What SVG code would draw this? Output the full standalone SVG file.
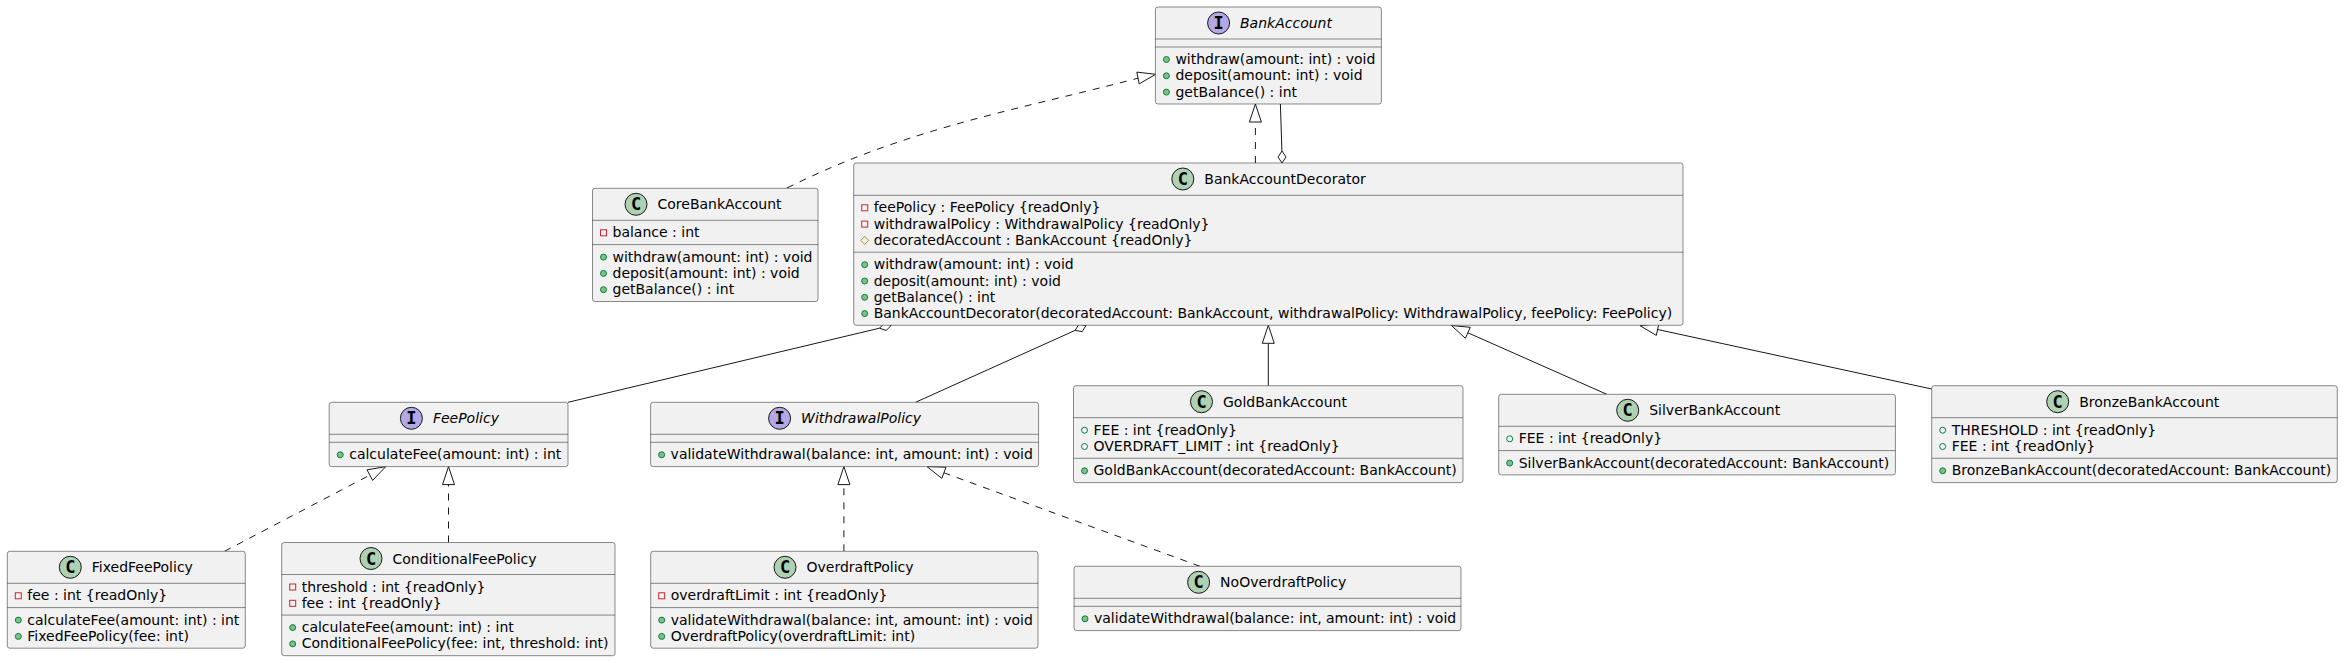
<svg xmlns="http://www.w3.org/2000/svg" width="2343" height="662" viewBox="0 0 2343 662">
<style>
.box{fill:#F1F1F1;stroke:#181818;stroke-width:0.5}
.sep{stroke:#181818;stroke-width:0.5}
.t{font-family:"DejaVu Sans",sans-serif;font-size:14px;fill:#000000}
.it{font-style:italic}
.cc{fill:#ADD1B2;stroke:#181818;stroke-width:1}
.ci{fill:#B4A7E5;stroke:#181818;stroke-width:1}
.lt{font-family:"DejaVu Sans Mono",monospace;font-weight:bold;font-size:17px;text-anchor:middle;fill:#000000}
.pm{fill:#84BE84;stroke:#038048;stroke-width:1}
.pf{fill:none;stroke:#038048;stroke-width:1}
.pr{fill:none;stroke:#C82930;stroke-width:1}
.pt{fill:none;stroke:#B38D22;stroke-width:1}
.e{stroke:#181818;stroke-width:1;fill:none}
.d{stroke-dasharray:7,7}
.ah{fill:#FFFFFF;stroke:#181818;stroke-width:1}
</style>
<rect width="2343" height="662" fill="#FFFFFF"/>

<g id="connectors">
  <!-- CoreBankAccount realizes BankAccount -->
  <path class="e d" d="M787,188 C907,128 1017,110 1138,78.2"/>
  <polygon class="ah" points="1155.7,74.3 1139.2,83.9 1136.8,72.1"/>
  <!-- BankAccountDecorator realizes BankAccount -->
  <line class="e d" x1="1255.4" y1="163" x2="1255.4" y2="122"/>
  <polygon class="ah" points="1255.4,104 1249.4,122 1261.4,122"/>
  <!-- BankAccountDecorator aggregates BankAccount -->
  <line class="e" x1="1280.4" y1="104" x2="1281.9" y2="151"/>
  <polygon class="ah" points="1282,163 1286,157 1282,151 1278,157"/>
  <!-- Decorator aggregates FeePolicy -->
  <line class="e" x1="879.5" y1="328.2" x2="568" y2="402.3"/>
  <polygon class="ah" points="891.2,325.4 886.2,330.5 879.5,328.2 884.4,323.2"/>
  <!-- Decorator aggregates WithdrawalPolicy -->
  <line class="e" x1="1075.1" y1="330.4" x2="915.5" y2="402.3"/>
  <polygon class="ah" points="1086,325.5 1082.2,331.6 1075.1,330.4 1078.9,324.3"/>
  <!-- Gold extends Decorator -->
  <line class="e" x1="1268.3" y1="385.7" x2="1268.3" y2="343.3"/>
  <polygon class="ah" points="1268.3,325.3 1262.3,343.3 1274.3,343.3"/>
  <!-- Silver extends Decorator -->
  <line class="e" x1="1467.9" y1="332.8" x2="1606.8" y2="394.3"/>
  <polygon class="ah" points="1451.4,325.5 1465.4,338.3 1470.3,327.3"/>
  <!-- Bronze extends Decorator -->
  <line class="e" x1="1657.6" y1="329.5" x2="1931.7" y2="389"/>
  <polygon class="ah" points="1640,325.7 1656.3,335.4 1658.9,323.6"/>
  <!-- FixedFeePolicy realizes FeePolicy -->
  <line class="e d" x1="224.5" y1="551.3" x2="369.8" y2="475.1"/>
  <polygon class="ah" points="385.7,466.7 372.6,480.4 367,469.8"/>
  <!-- ConditionalFeePolicy realizes FeePolicy -->
  <line class="e d" x1="448.5" y1="542.5" x2="448.5" y2="484.6"/>
  <polygon class="ah" points="448.5,466.6 442.5,484.6 454.5,484.6"/>
  <!-- OverdraftPolicy realizes WithdrawalPolicy -->
  <line class="e d" x1="843.9" y1="551.3" x2="843.9" y2="484.6"/>
  <polygon class="ah" points="843.9,466.6 837.9,484.6 849.9,484.6"/>
  <!-- NoOverdraftPolicy realizes WithdrawalPolicy -->
  <line class="e d" x1="1200" y1="566.3" x2="943.9" y2="472.8"/>
  <polygon class="ah" points="927,466.6 941.8,478.4 946,467.2"/>
</g>

<g id="BankAccount">
  <rect class="box" x="1155.4" y="7" width="226" height="97" rx="2.5"/>
  <line class="sep" x1="1155.4" y1="39" x2="1381.4" y2="39"/>
  <line class="sep" x1="1155.4" y1="47" x2="1381.4" y2="47"/>
  <circle class="ci" cx="1218.6" cy="23" r="11"/>
  <text class="lt" x="1218.6" y="29">I</text>
  <text class="t it" x="1240" y="28">BankAccount</text>
  <circle class="pm" cx="1166.4" cy="59.5" r="3"/>
  <text class="t" x="1175.4" y="64">withdraw(amount: int) : void</text>
  <circle class="pm" cx="1166.4" cy="75.8" r="3"/>
  <text class="t" x="1175.4" y="80.3">deposit(amount: int) : void</text>
  <circle class="pm" cx="1166.4" cy="92.1" r="3"/>
  <text class="t" x="1175.4" y="96.6">getBalance() : int</text>
</g>

<g id="CoreBankAccount">
  <rect class="box" x="592.5" y="188.3" width="225.5" height="113.2" rx="2.5"/>
  <line class="sep" x1="592.5" y1="220.3" x2="818" y2="220.3"/>
  <line class="sep" x1="592.5" y1="244.6" x2="818" y2="244.6"/>
  <circle class="cc" cx="636" cy="204.3" r="11"/>
  <text class="lt" x="636" y="210.3">C</text>
  <text class="t" x="657.5" y="209.3">CoreBankAccount</text>
  <rect class="pr" x="600.5" y="229.8" width="6" height="6"/>
  <text class="t" x="612.5" y="237.3">balance : int</text>
  <circle class="pm" cx="603.5" cy="257.1" r="3"/>
  <text class="t" x="612.5" y="261.6">withdraw(amount: int) : void</text>
  <circle class="pm" cx="603.5" cy="273.4" r="3"/>
  <text class="t" x="612.5" y="277.9">deposit(amount: int) : void</text>
  <circle class="pm" cx="603.5" cy="289.7" r="3"/>
  <text class="t" x="612.5" y="294.2">getBalance() : int</text>
</g>

<g id="BankAccountDecorator">
  <rect class="box" x="853.7" y="163" width="829.3" height="162.3" rx="2.5"/>
  <line class="sep" x1="853.7" y1="195.3" x2="1683" y2="195.3"/>
  <line class="sep" x1="853.7" y1="252.2" x2="1683" y2="252.2"/>
  <circle class="cc" cx="1182.8" cy="179" r="11"/>
  <text class="lt" x="1182.8" y="185">C</text>
  <text class="t" x="1204.3" y="184">BankAccountDecorator</text>
  <rect class="pr" x="861.7" y="204.8" width="6" height="6"/>
  <text class="t" x="873.7" y="212.3">feePolicy : FeePolicy {readOnly}</text>
  <rect class="pr" x="861.7" y="221.1" width="6" height="6"/>
  <text class="t" x="873.7" y="228.6">withdrawalPolicy : WithdrawalPolicy {readOnly}</text>
  <polygon class="pt" points="864.7,236.4 868.7,240.4 864.7,244.4 860.7,240.4"/>
  <text class="t" x="873.7" y="244.9">decoratedAccount : BankAccount {readOnly}</text>
  <circle class="pm" cx="864.7" cy="264.7" r="3"/>
  <text class="t" x="873.7" y="269.2">withdraw(amount: int) : void</text>
  <circle class="pm" cx="864.7" cy="281" r="3"/>
  <text class="t" x="873.7" y="285.5">deposit(amount: int) : void</text>
  <circle class="pm" cx="864.7" cy="297.3" r="3"/>
  <text class="t" x="873.7" y="301.8">getBalance() : int</text>
  <circle class="pm" cx="864.7" cy="313.6" r="3"/>
  <text class="t" x="873.7" y="318.1">BankAccountDecorator(decoratedAccount: BankAccount, withdrawalPolicy: WithdrawalPolicy, feePolicy: FeePolicy)</text>
</g>

<g id="FeePolicy">
  <rect class="box" x="329.2" y="402.3" width="238.8" height="64.3" rx="2.5"/>
  <line class="sep" x1="329.2" y1="434.3" x2="568" y2="434.3"/>
  <line class="sep" x1="329.2" y1="442.3" x2="568" y2="442.3"/>
  <circle class="ci" cx="411.4" cy="418.3" r="11"/>
  <text class="lt" x="411.4" y="424.3">I</text>
  <text class="t it" x="432.9" y="423.3">FeePolicy</text>
  <circle class="pm" cx="340.2" cy="454.8" r="3"/>
  <text class="t" x="349.2" y="459.3">calculateFee(amount: int) : int</text>
</g>

<g id="WithdrawalPolicy">
  <rect class="box" x="650.6" y="402.3" width="388" height="64.3" rx="2.5"/>
  <line class="sep" x1="650.6" y1="434.3" x2="1038.6" y2="434.3"/>
  <line class="sep" x1="650.6" y1="442.3" x2="1038.6" y2="442.3"/>
  <circle class="ci" cx="779.6" cy="418.3" r="11"/>
  <text class="lt" x="779.6" y="424.3">I</text>
  <text class="t it" x="801.1" y="423.3">WithdrawalPolicy</text>
  <circle class="pm" cx="661.6" cy="454.8" r="3"/>
  <text class="t" x="670.6" y="459.3">validateWithdrawal(balance: int, amount: int) : void</text>
</g>

<g id="GoldBankAccount">
  <rect class="box" x="1073.5" y="385.7" width="389.5" height="96.9" rx="2.5"/>
  <line class="sep" x1="1073.5" y1="417.7" x2="1463" y2="417.7"/>
  <line class="sep" x1="1073.5" y1="458.3" x2="1463" y2="458.3"/>
  <circle class="cc" cx="1201.5" cy="401.7" r="11"/>
  <text class="lt" x="1201.5" y="407.7">C</text>
  <text class="t" x="1223" y="406.7">GoldBankAccount</text>
  <circle class="pf" cx="1084.5" cy="430.2" r="3"/>
  <text class="t" x="1093.5" y="434.7">FEE : int {readOnly}</text>
  <circle class="pf" cx="1084.5" cy="446.5" r="3"/>
  <text class="t" x="1093.5" y="451">OVERDRAFT_LIMIT : int {readOnly}</text>
  <circle class="pm" cx="1084.5" cy="470.8" r="3"/>
  <text class="t" x="1093.5" y="475.3">GoldBankAccount(decoratedAccount: BankAccount)</text>
</g>

<g id="SilverBankAccount">
  <rect class="box" x="1498.7" y="394.3" width="396.7" height="80.6" rx="2.5"/>
  <line class="sep" x1="1498.7" y1="426.3" x2="1895.4" y2="426.3"/>
  <line class="sep" x1="1498.7" y1="450.6" x2="1895.4" y2="450.6"/>
  <circle class="cc" cx="1627.7" cy="410.3" r="11"/>
  <text class="lt" x="1627.7" y="416.3">C</text>
  <text class="t" x="1649.2" y="415.3">SilverBankAccount</text>
  <circle class="pf" cx="1509.7" cy="438.8" r="3"/>
  <text class="t" x="1518.7" y="443.3">FEE : int {readOnly}</text>
  <circle class="pm" cx="1509.7" cy="463.1" r="3"/>
  <text class="t" x="1518.7" y="467.6">SilverBankAccount(decoratedAccount: BankAccount)</text>
</g>

<g id="BronzeBankAccount">
  <rect class="box" x="1931.7" y="385.7" width="405.6" height="96.9" rx="2.5"/>
  <line class="sep" x1="1931.7" y1="417.7" x2="2337.3" y2="417.7"/>
  <line class="sep" x1="1931.7" y1="458.3" x2="2337.3" y2="458.3"/>
  <circle class="cc" cx="2057.7" cy="401.7" r="11"/>
  <text class="lt" x="2057.7" y="407.7">C</text>
  <text class="t" x="2079.2" y="406.7">BronzeBankAccount</text>
  <circle class="pf" cx="1942.7" cy="430.2" r="3"/>
  <text class="t" x="1951.7" y="434.7">THRESHOLD : int {readOnly}</text>
  <circle class="pf" cx="1942.7" cy="446.5" r="3"/>
  <text class="t" x="1951.7" y="451">FEE : int {readOnly}</text>
  <circle class="pm" cx="1942.7" cy="470.8" r="3"/>
  <text class="t" x="1951.7" y="475.3">BronzeBankAccount(decoratedAccount: BankAccount)</text>
</g>

<g id="FixedFeePolicy">
  <rect class="box" x="7.3" y="551.3" width="238" height="96.9" rx="2.5"/>
  <line class="sep" x1="7.3" y1="583.3" x2="245.3" y2="583.3"/>
  <line class="sep" x1="7.3" y1="607.6" x2="245.3" y2="607.6"/>
  <circle class="cc" cx="70.3" cy="567.3" r="11"/>
  <text class="lt" x="70.3" y="573.3">C</text>
  <text class="t" x="91.8" y="572.3">FixedFeePolicy</text>
  <rect class="pr" x="15.3" y="592.8" width="6" height="6"/>
  <text class="t" x="27.3" y="600.3">fee : int {readOnly}</text>
  <circle class="pm" cx="18.3" cy="620.1" r="3"/>
  <text class="t" x="27.3" y="624.6">calculateFee(amount: int) : int</text>
  <circle class="pm" cx="18.3" cy="636.4" r="3"/>
  <text class="t" x="27.3" y="640.9">FixedFeePolicy(fee: int)</text>
</g>

<g id="ConditionalFeePolicy">
  <rect class="box" x="281.7" y="542.5" width="333.3" height="113.2" rx="2.5"/>
  <line class="sep" x1="281.7" y1="574.5" x2="615" y2="574.5"/>
  <line class="sep" x1="281.7" y1="615.1" x2="615" y2="615.1"/>
  <circle class="cc" cx="371" cy="558.5" r="11"/>
  <text class="lt" x="371" y="564.5">C</text>
  <text class="t" x="392.5" y="563.5">ConditionalFeePolicy</text>
  <rect class="pr" x="289.7" y="584" width="6" height="6"/>
  <text class="t" x="301.7" y="591.5">threshold : int {readOnly}</text>
  <rect class="pr" x="289.7" y="600.3" width="6" height="6"/>
  <text class="t" x="301.7" y="607.8">fee : int {readOnly}</text>
  <circle class="pm" cx="292.7" cy="627.6" r="3"/>
  <text class="t" x="301.7" y="632.1">calculateFee(amount: int) : int</text>
  <circle class="pm" cx="292.7" cy="643.9" r="3"/>
  <text class="t" x="301.7" y="648.4">ConditionalFeePolicy(fee: int, threshold: int)</text>
</g>

<g id="OverdraftPolicy">
  <rect class="box" x="650.7" y="551.3" width="387.3" height="96.9" rx="2.5"/>
  <line class="sep" x1="650.7" y1="583.3" x2="1038" y2="583.3"/>
  <line class="sep" x1="650.7" y1="607.6" x2="1038" y2="607.6"/>
  <circle class="cc" cx="785" cy="567.3" r="11"/>
  <text class="lt" x="785" y="573.3">C</text>
  <text class="t" x="806.5" y="572.3">OverdraftPolicy</text>
  <rect class="pr" x="658.7" y="592.8" width="6" height="6"/>
  <text class="t" x="670.7" y="600.3">overdraftLimit : int {readOnly}</text>
  <circle class="pm" cx="661.7" cy="620.1" r="3"/>
  <text class="t" x="670.7" y="624.6">validateWithdrawal(balance: int, amount: int) : void</text>
  <circle class="pm" cx="661.7" cy="636.4" r="3"/>
  <text class="t" x="670.7" y="640.9">OverdraftPolicy(overdraftLimit: int)</text>
</g>

<g id="NoOverdraftPolicy">
  <rect class="box" x="1074" y="566.3" width="387" height="64.3" rx="2.5"/>
  <line class="sep" x1="1074" y1="598.3" x2="1461" y2="598.3"/>
  <line class="sep" x1="1074" y1="606.3" x2="1461" y2="606.3"/>
  <circle class="cc" cx="1198.6" cy="582.3" r="11"/>
  <text class="lt" x="1198.6" y="588.3">C</text>
  <text class="t" x="1220.1" y="587.3">NoOverdraftPolicy</text>
  <circle class="pm" cx="1085" cy="618.8" r="3"/>
  <text class="t" x="1094" y="623.3">validateWithdrawal(balance: int, amount: int) : void</text>
</g>
</svg>
